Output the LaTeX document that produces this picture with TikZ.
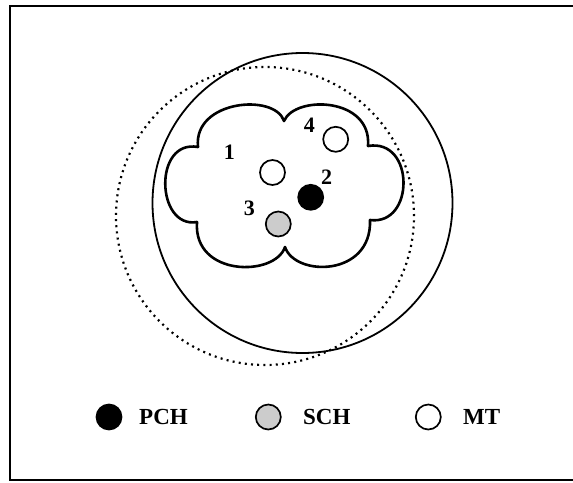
\documentclass[tikz,border=0pt]{standalone}
\usepackage{fontspec}
\setmainfont{Liberation Serif}
\begin{document}
\begin{tikzpicture}[x=1pt,y=-1pt,
  bigcirc/.style={draw,circle,minimum size=300pt,inner sep=0pt,line width=1.8pt},
  dotcirc/.style={draw,circle,minimum size=298pt,inner sep=0pt,line width=2.2pt,dash pattern=on 2pt off 4.2pt},
  cell/.style={draw,circle,minimum size=25pt,inner sep=0pt,line width=1.7pt},
  mt/.style={cell,fill=white},
  pch/.style={cell,fill=black},
  sch/.style={cell,fill=black!20},
  lbl/.style={font=\fontsize{22}{26}\selectfont\bfseries,inner sep=0pt},
  leg/.style={font=\fontsize{23}{27}\selectfont\bfseries,inner sep=0pt,anchor=base west}]
\clip (0,0) rectangle (573,482);
\fill[white] (0,0) rectangle (573,482);
\draw[line width=2.4pt] (10,6) rectangle (590,480);
% big circles
\node[bigcirc] (outer) at (302.5,203) {};
\node[dotcirc] (dotted) at (265,216) {};
% cloud
\draw[line width=2.6pt,line join=round]
  (198,147) .. controls (193,100) and (275,93) .. (284,121)
  .. controls (295,95) and (372,97) .. (368,146)
  .. controls (415,138) and (415,226) .. (370,220)
  .. controls (372,277) and (295,277) .. (285,247)
  .. controls (275,277) and (193,277) .. (197,222)
  .. controls (156,229) and (153,139) .. (198,147) -- cycle;
% cells
\node[mt] (c1) at (272.5,172.5) {};
\node[mt] (c4) at (335.7,139.3) {};
\node[pch] (c2) at (310.7,197.3) {};
\node[sch] (c3) at (278.3,224) {};
\node[lbl] (l1) at (229.3,152) {1};
\node[lbl] (l4) at (309.3,125) {4};
\node[lbl] (l2) at (326.7,177) {2};
\node[lbl] (l3) at (249.3,208.5) {3};
% legend
\node[pch] (kp) at (109,417) {};
\node[sch] (ks) at (268.3,417) {};
\node[mt] (km) at (428.3,417) {};
\node[leg] (tp) at (139,424) {PCH};
\node[leg] (ts) at (303,424) {SCH};
\node[leg] (tm) at (463,424) {MT};
\end{tikzpicture}
\end{document}
